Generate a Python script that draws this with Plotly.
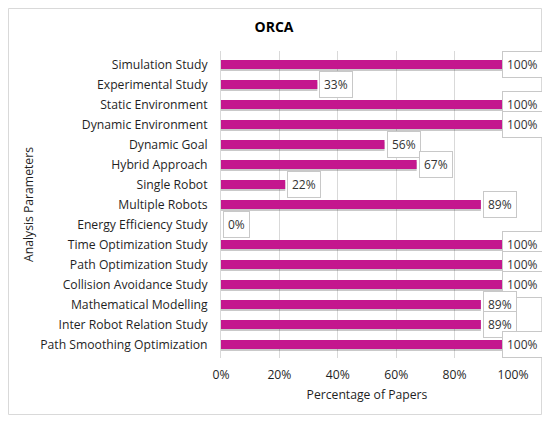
import plotly.graph_objects as go

# analysis parameters, top to bottom as in the chart
parameters = [
    'Simulation Study', 'Experimental Study', 'Static Environment',
    'Dynamic Environment', 'Dynamic Goal', 'Hybrid Approach', 'Single Robot',
    'Multiple Robots', 'Energy Efficiency Study', 'Time Optimization Study',
    'Path Optimization Study', 'Collision Avoidance Study',
    'Mathematical Modelling', 'Inter Robot Relation Study',
    'Path Smoothing Optimization'
]
percent = [100, 33, 100, 100, 56, 67, 22, 89, 0, 100, 100, 100, 89, 89, 100]

x_ticks = [0, 20, 40, 60, 80, 100]
x_tick_text = ['0%', '20%', '40%', '60%', '80%', '100%']

font_family = 'Open Sans'
bar_color = '#C4178E'
text_color = '#1f1f1f'

# page body adds an 8px margin, so the figure is kept 16px smaller
W, H = 534, 407
L, R, T, B = 213, 29, 43, 57
pw, ph = W - L - R, H - T - B

fig = go.Figure()

# soft drop shadow under each bar
fig.add_trace(go.Bar(
    x=percent, y=parameters, orientation='h',
    width=0.44, offset=-0.12,
    marker=dict(color='rgba(60,60,60,0.28)', line=dict(width=0)),
    hoverinfo='skip', showlegend=False
))

fig.add_trace(go.Bar(
    x=percent, y=parameters, orientation='h',
    width=0.44, offset=-0.22,
    marker=dict(color=bar_color, line=dict(width=0)),
    showlegend=False
))

# boxed data labels
for name, v in zip(parameters, percent):
    if v >= 95:
        anchor, shift = 'right', 30
    else:
        anchor, shift = 'left', 2
    fig.add_annotation(
        x=v, y=name, xref='x', yref='y',
        text=f'{v}%', showarrow=False,
        xanchor=anchor, xshift=shift,
        font=dict(family=font_family, size=12, color='#333333'),
        bgcolor='white', bordercolor='#c8c8c8', borderwidth=1, borderpad=4
    )

# outer chart frame
fig.add_shape(
    type='rect', xref='paper', yref='paper',
    x0=(0.5 - L) / pw, x1=(W - 0.5 - L) / pw,
    y0=-(H - 0.5 - T - ph) / ph, y1=(ph + T - 0.5) / ph,
    line=dict(color='#d9d9d9', width=1), layer='below'
)

fig.update_layout(
    width=W, height=H,
    margin=dict(l=L, r=R, t=T, b=B),
    barmode='overlay',
    paper_bgcolor='white', plot_bgcolor='white',
    font=dict(family=font_family, size=12.2, color=text_color),
    title=dict(text='<b>ORCA</b>', x=266 / W, xanchor='center',
               y=1 - 19 / H, yanchor='middle', yref='container',
               font=dict(family=font_family, size=14, color='#000000')),
    xaxis=dict(
        range=[0, 100], tickvals=x_ticks, ticktext=x_tick_text,
        showgrid=True, gridcolor='#d9d9d9', gridwidth=1,
        zeroline=False, showline=False, ticks='',
        ticklabelstandoff=8,
        title=dict(text='Percentage of Papers', standoff=8,
                   font=dict(family=font_family, size=12.2, color=text_color))
    ),
    yaxis=dict(
        autorange='reversed', showgrid=False, zeroline=False,
        showline=True, linecolor='#d9d9d9', linewidth=1, ticks='',
        ticklabelstandoff=10,
        title=dict(text='Analysis Parameters', standoff=3,
                   font=dict(family=font_family, size=12.2, color=text_color))
    ),
)

fig.write_html('out.html')
